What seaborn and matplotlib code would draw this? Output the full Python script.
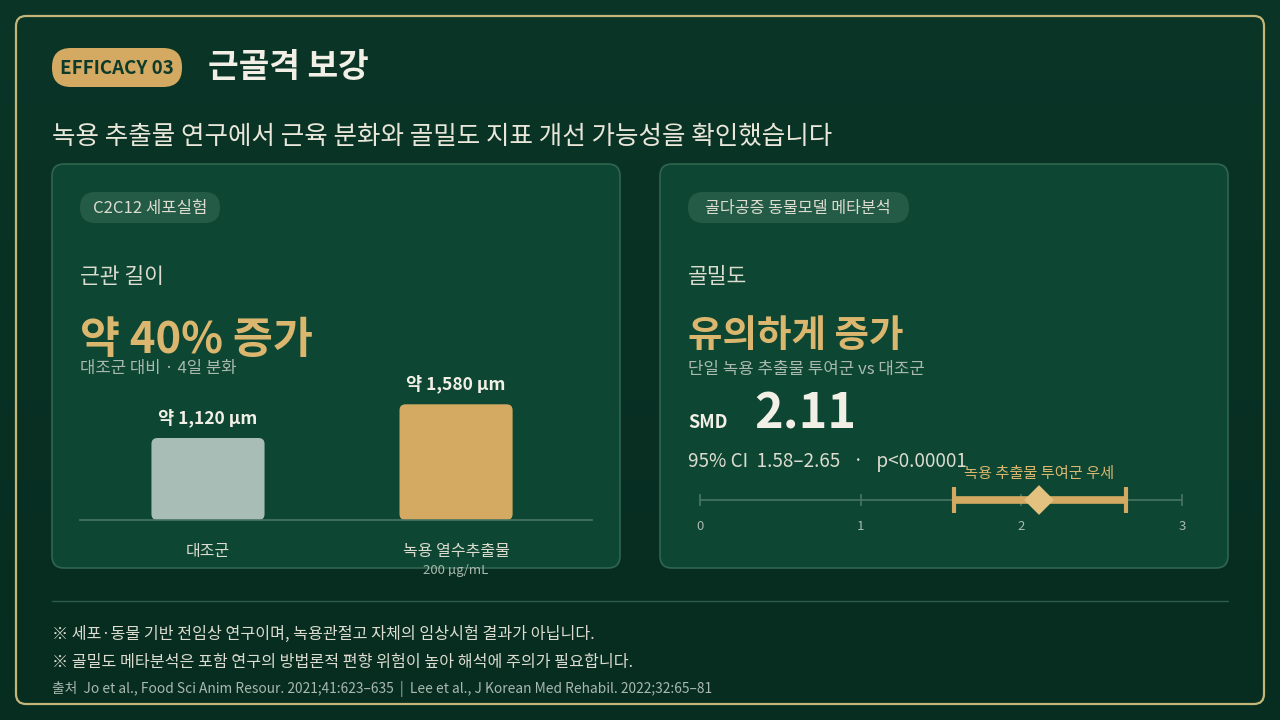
import matplotlib
matplotlib.use("Agg")
import matplotlib.pyplot as plt
import seaborn as sns
import numpy as np
from matplotlib.patches import FancyBboxPatch

# ==========================
# Data
# ==========================
groups = ["대조군", "녹용 열수추출물"]
group_sub = ["", "200 µg/mL"]
lengths = [1120, 1580]
length_labels = ["약 1,120 μm", "약 1,580 μm"]

smd = 2.11
ci_low, ci_high = 1.58, 2.65
p_text = "p<0.00001"
smd_ticks = [0, 1, 2, 3]

footnotes = [
    "※ 세포·동물 기반 전임상 연구이며, 녹용관절고 자체의 임상시험 결과가 아닙니다.",
    "※ 골밀도 메타분석은 포함 연구의 방법론적 편향 위험이 높아 해석에 주의가 필요합니다.",
]
source = "출처  Jo et al., Food Sci Anim Resour. 2021;41:623–635  |  Lee et al., J Korean Med Rehabil. 2022;32:65–81"

# colours
BG_TOP = "#0a3527"
BG_BOT = "#072c20"
PANEL = "#0d4632"
PANEL_EDGE = "#2f6650"
PILL = "#245b46"
GOLD = "#d4aa62"
GOLD_TXT = "#dab66f"
GRAY_BAR = "#a7bdb5"
WHITE = "#f2efe6"
LIGHT = "#dcdcd0"
MUTED = "#a9b9b0"

sns.set_theme(style="white")
plt.rcParams["font.family"] = ["Noto Sans CJK KR", "DejaVu Sans"]

W, H = 1280, 720
fig = plt.figure(figsize=(12.8, 7.2), dpi=100)


def px_axes(x0, y0, x1, y1):
    return fig.add_axes([x0 / W, 1 - y1 / H, (x1 - x0) / W, (y1 - y0) / H])


# background layer in pixel coords
bg = fig.add_axes([0, 0, 1, 1])
bg.set_xlim(0, W)
bg.set_ylim(H, 0)
bg.axis("off")
grad = np.linspace(0, 1, 256).reshape(-1, 1)
cmap = matplotlib.colors.LinearSegmentedColormap.from_list("bg", [BG_TOP, BG_BOT])
bg.imshow(grad, cmap=cmap, extent=[0, W, H, 0], aspect="auto", zorder=0)

# outer frame
bg.add_patch(FancyBboxPatch((16, 16), 1248, 688, boxstyle="round,pad=0,rounding_size=10",
                            fc="none", ec="#c4b679", lw=1.6, zorder=1))

# header pill + title
bg.add_patch(FancyBboxPatch((52, 48), 130, 39, boxstyle="round,pad=0,rounding_size=19",
                            fc=GOLD, ec="none", zorder=2))
bg.text(117, 68, "EFFICACY 03", color="#0d3a2a", fontsize=13.5, fontweight="bold",
        ha="center", va="center", zorder=3)
bg.text(208, 68, "근골격 보강", color=WHITE, fontsize=24, fontweight="bold",
        ha="left", va="center", zorder=3)
bg.text(52, 137, "녹용 추출물 연구에서 근육 분화와 골밀도 지표 개선 가능성을 확인했습니다",
        color="#e9e6da", fontsize=18.4, fontweight="medium", ha="left", va="center", zorder=3)

# panels
for x0 in (52, 660):
    bg.add_patch(FancyBboxPatch((x0, 164), 568, 404, boxstyle="round,pad=0,rounding_size=12",
                                fc=PANEL, ec=PANEL_EDGE, lw=1.2, zorder=1))

# panel pills
bg.add_patch(FancyBboxPatch((80, 192), 140, 31, boxstyle="round,pad=0,rounding_size=15.5",
                            fc=PILL, ec="none", zorder=2))
bg.text(150, 208, "C2C12 세포실험", color=LIGHT, fontsize=12, fontweight="medium",
        ha="center", va="center", zorder=3)
bg.add_patch(FancyBboxPatch((688, 192), 221, 31, boxstyle="round,pad=0,rounding_size=15.5",
                            fc=PILL, ec="none", zorder=2))
bg.text(798, 208, "골다공증 동물모델 메타분석", color=LIGHT, fontsize=11.6, fontweight="medium",
        ha="center", va="center", zorder=3)

# left panel headline text
bg.text(80, 277, "근관 길이", color=LIGHT, fontsize=15.5, fontweight="medium", va="center", zorder=3)
bg.text(80, 340, "약 40% 증가", color=GOLD_TXT, fontsize=31.3, fontweight="bold", va="center", zorder=3)
bg.text(80, 369, "대조군 대비 · 4일 분화", color=MUTED, fontsize=12, va="center", zorder=3)

# right panel headline text
bg.text(688, 277, "골밀도", color=LIGHT, fontsize=15.5, fontweight="medium", va="center", zorder=3)
bg.text(688, 335, "유의하게 증가", color=GOLD_TXT, fontsize=27, fontweight="bold", va="center", zorder=3)
bg.text(688, 369, "단일 녹용 추출물 투여군 vs 대조군", color=MUTED, fontsize=12.1, va="center", zorder=3)
bg.text(688, 422, "SMD", color=WHITE, fontsize=13, fontweight="bold", va="center", zorder=3)
bg.text(754, 414, f"{smd:.2f}", color=WHITE, fontsize=35, fontweight="bold", va="center", zorder=3)
bg.text(688, 462, f"95% CI  {ci_low:.2f}–{ci_high:.2f}   ·   {p_text}", color=LIGHT,
        fontsize=13.6, va="center", zorder=3)

# divider and footnotes
bg.plot([52, 1228], [601, 601], color="#2f5c4a", lw=1, zorder=2)
bg.text(52, 634, footnotes[0], color=LIGHT, fontsize=11.6, va="center", zorder=3)
bg.text(52, 662, footnotes[1], color=LIGHT, fontsize=11.6, va="center", zorder=3)
bg.text(52, 689, source, color=MUTED, fontsize=9.9, va="center", zorder=3)

# ==========================
# Bar chart (muscle tube length)
# ==========================
ax = px_axes(80, 360, 592, 520)
ax.patch.set_alpha(0)
sns.barplot(x=groups, y=lengths, hue=groups, palette=[GRAY_BAR, GOLD], legend=False,
            width=0.456, saturation=1, ax=ax)
ax.set_xlim(-0.516, 1.548)
ax.set_ylim(0, 2185)

# replace square bars with rounded ones
px_x = 512 / (1.548 + 0.516)
px_y = 160 / 2185
bars = list(ax.patches)
for b in bars:
    x, y, w, h = b.get_x(), b.get_y(), b.get_width(), b.get_height()
    fc = b.get_facecolor()
    b.remove()
    ax.add_patch(FancyBboxPatch((x, y), w, h, boxstyle=f"round,pad=0,rounding_size={6 / px_x}",
                                mutation_aspect=px_x / px_y, fc=fc, ec="none", zorder=2))

for i, (v, lab) in enumerate(zip(lengths, length_labels)):
    ax.annotate(lab, (i, v), xytext=(0, 14.5), textcoords="offset points", ha="center",
                va="center", color=WHITE, fontsize=12.6, fontweight="bold", annotation_clip=False)
    ax.annotate(groups[i], (i, 0), xytext=(0, -22.5), textcoords="offset points", ha="center",
                va="center", color=LIGHT, fontsize=11.5, annotation_clip=False)
    if group_sub[i]:
        ax.annotate(group_sub[i], (i, 0), xytext=(0, -36.5), textcoords="offset points",
                    ha="center", va="center", color=MUTED, fontsize=9.5, annotation_clip=False)

sns.despine(ax=ax, left=True, top=True, right=True)
ax.spines["bottom"].set_color("#4a7564")
ax.spines["bottom"].set_linewidth(1.2)
ax.set_xticks([])
ax.set_yticks([])
ax.set_xlabel("")
ax.set_ylabel("")

# ==========================
# Forest plot (SMD)
# ==========================
fx = px_axes(700, 470, 1182, 530)
fx.patch.set_alpha(0)
fx.axis("off")
fx.axhline(0, color="#4a7564", lw=1.2, zorder=1)
fx.vlines(smd_ticks, -0.2, 0.2, color="#4a7564", lw=1.2, clip_on=False)
for t in smd_ticks:
    fx.text(t, -0.9, str(t), ha="center", va="center", color=MUTED, fontsize=9.5, clip_on=False)

fx.hlines(0, ci_low, ci_high, color=GOLD, lw=5.5, zorder=2)
fx.vlines([ci_low, ci_high], -0.42, 0.42, color=GOLD, lw=3, zorder=2)
sns.scatterplot(x=[smd], y=[0], marker="D", s=230, color="#e2c27e", edgecolor="none",
                ax=fx, zorder=3, clip_on=False)
fx.text(smd, 0.87, "녹용 추출물 투여군 우세", ha="center", va="center", color=GOLD_TXT,
        fontsize=11, fontweight="medium", clip_on=False)
fx.set_xlim(smd_ticks[0], smd_ticks[-1])
fx.set_ylim(-1, 1)

fig.savefig("out.png", dpi=100)
